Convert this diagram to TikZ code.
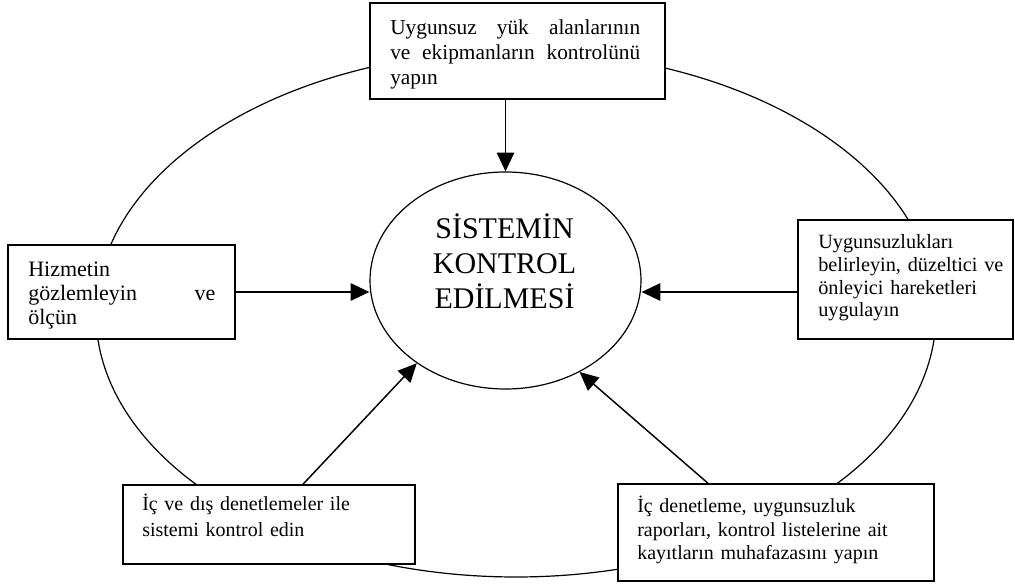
\documentclass[tikz,border=0pt]{standalone}
\usepackage{fontspec}
\setmainfont{Liberation Serif}
\usetikzlibrary{arrows.meta,fit,shapes.geometric}
\begin{document}
\begin{tikzpicture}[x=0.75pt,y=-0.75pt,
  outline/.style={draw=black,line width=0.9pt},
  card/.style={draw=black,line width=1.1pt,fill=white,inner sep=0pt,rectangle},
  cardtext/.style={inner sep=0pt,anchor=base west,align=left,text width=#1},
  push/.style={draw=black,line width=1.1pt,-{Triangle[length=14pt,width=13pt]}},
]
\useasboundingbox (0,0) rectangle (1015,584);

% outer cycle
\draw[outline] (516,314) ellipse [x radius=420, y radius=263];

% boxes on the cycle
\node[card, fit={(370,3) (665,99)}] (top) {};
\node[card, fit={(8,245) (235,339)}] (left) {};
\node[card, fit={(798,220) (1013,339)}] (right) {};
\node[card, fit={(123,485) (415,564)}] (bl) {};
\node[card, fit={(618,484) (934,581)}] (br) {};

% box texts
\node[cardtext=250*0.75pt, font=\fontsize{16}{18.75}\selectfont] (ttop) at (390,35)
  {Uygunsuz\hfill yük\hfill alanlarının\\ve\hfill ekipmanların\hfill kontrolünü\\yapın};
\node[cardtext=187*0.75pt, font=\fontsize{16.5}{18}\selectfont] (tleft) at (28,277)
  {Hizmetin\\gözlemleyin\hfill ve\\ölçün};
\node[cardtext=195*0.75pt, font=\fontsize{15.2}{17}\selectfont] (tright) at (818,249)
  {Uygunsuzlukları\\belirleyin, düzeltici ve\\önleyici hareketleri\\uygulayın};
\node[cardtext=260*0.75pt, font=\fontsize{15}{19.5}\selectfont] (tbl) at (142,511)
  {İç ve dış denetlemeler ile\\sistemi kontrol edin};
\node[cardtext=285*0.75pt, font=\fontsize{15}{17.6}\selectfont] (tbr) at (637,513)
  {İç denetleme, uygunsuzluk\\raporları, kontrol listelerine ait\\kayıtların muhafazasını yapın};

% central goal
\node[outline, ellipse, inner sep=0pt, minimum width=271*0.75pt, minimum height=217*0.75pt] (c) at (505.5,280.5) {};
\node[inner sep=0pt, anchor=base, align=center, text width=200*0.75pt,
      font=\fontsize{22.5}{25.9}\selectfont] (ctext) at (504.5,239)
  {SİSTEMİN\\KONTROL\\EDİLMESİ};

% arrows into the centre
\draw[push] (top.south -| c.north) -- (c.north);
\draw[push] (left.east) -- (left.east -| c.west);
\draw[push] (right.west |- left.east) -- (left.east -| c.east);
\draw[push] ([xshift=25.5pt]bl.north) -- (c.223);
\draw[push] ([xshift=-51pt]br.north) -- (c.309);
\end{tikzpicture}
\end{document}
